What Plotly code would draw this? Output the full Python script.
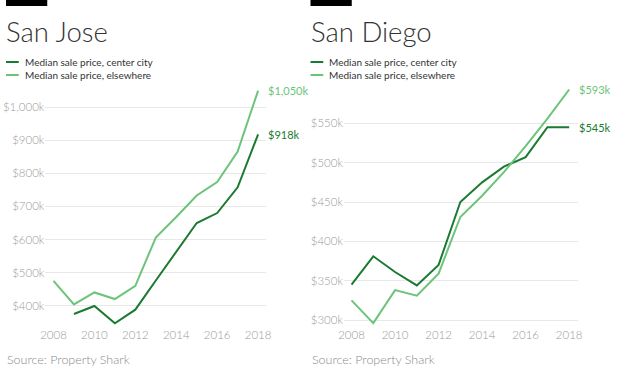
import plotly.graph_objects as go

# ---- data (values in $ thousands) ----
sj_years_center = [2009, 2010, 2011, 2012, 2013, 2014, 2015, 2016, 2017, 2018]
sj_center = [375, 399, 347, 388, 476, 565, 650, 680, 758, 918]
sj_years_else = [2008, 2009, 2010, 2011, 2012, 2013, 2014, 2015, 2016, 2017, 2018]
sj_else = [475, 404, 440, 420, 460, 606, 668, 733, 774, 866, 1050]

sd_years = [2008, 2009, 2010, 2011, 2012, 2013, 2014, 2015, 2016, 2017, 2018]
sd_center = [345, 381, 361, 344, 370, 450, 475, 495, 507, 545, 545]
sd_else = [325, 296, 338, 331, 359, 431, 458, 488, 521, 556, 593]

titles = ["San Jose", "San Diego"]
legend_labels = ["Median sale price, center city", "Median sale price, elsewhere"]
source_text = "Source: Property Shark"
x_ticks = [2008, 2010, 2012, 2014, 2016, 2018]
sj_y_ticks = [400, 500, 600, 700, 800, 900, 1000]
sd_y_ticks = [300, 350, 400, 450, 500, 550]

DARK = "#1b7a31"
LIGHT = "#6cc47a"
FONT = "Lato"
W, H = 620, 371


def fmt(v):
    return "${:,}k".format(v)


fig = go.Figure()


def px_x(p):
    return p / W


def px_y(p):
    return 1 - p / H


def add_line(x, y, color, xa, ya):
    fig.add_trace(go.Scatter(x=x, y=y, mode="lines", xaxis=xa, yaxis=ya,
                             line=dict(color=color, width=2), hoverinfo="skip",
                             showlegend=False))


add_line(sj_years_center, sj_center, DARK, "x", "y")
add_line(sj_years_else, sj_else, LIGHT, "x", "y")
add_line(sd_years, sd_center, DARK, "x2", "y2")
add_line(sd_years, sd_else, LIGHT, "x2", "y2")

ydom = [px_y(326), px_y(88)]
axis_font = dict(family=FONT, size=11.5, color="#9a9a9a", weight=300)

fig.update_layout(
    width=W, height=H, margin=dict(l=0, r=0, t=0, b=0),
    paper_bgcolor="white", plot_bgcolor="white", showlegend=False,
    font=dict(family=FONT),
    xaxis=dict(domain=[px_x(40), px_x(265)], range=[2007.6, 2018.4],
               tickvals=x_ticks, showgrid=False, zeroline=False, showline=False,
               tickfont=axis_font, ticks=""),
    yaxis=dict(domain=ydom, range=[338.6, 1058], tickvals=sj_y_ticks,
               ticktext=[fmt(v) for v in sj_y_ticks],
               showgrid=True, gridcolor="#e8e8e8", gridwidth=1, zeroline=False,
               tickfont=axis_font, ticks="", anchor="x"),
    xaxis2=dict(domain=[px_x(344), px_x(582)], range=[2007.65, 2018.39],
                tickvals=x_ticks, showgrid=False, zeroline=False, showline=False,
                tickfont=axis_font, ticks="", anchor="y2"),
    yaxis2=dict(domain=ydom, range=[292.4, 594.9], tickvals=sd_y_ticks,
                ticktext=[fmt(v) for v in sd_y_ticks],
                showgrid=True, gridcolor="#e8e8e8", gridwidth=1, zeroline=False,
                tickfont=axis_font, ticks="", anchor="x2"),
)

shapes = []
annotations = []
for i, x0 in enumerate([0, 310]):
    # black bar at top
    shapes.append(dict(type="rect", xref="paper", yref="paper",
                       x0=px_x(x0), x1=px_x(x0 + 42), y0=px_y(6), y1=px_y(0),
                       fillcolor="black", line=dict(width=0)))
    # title
    annotations.append(dict(text=titles[i], xref="paper", yref="paper",
                            x=px_x(x0 - 2), y=px_y(31), xanchor="left", yanchor="middle",
                            showarrow=False,
                            font=dict(family=FONT, size=27.5, color="#333333", weight=300)))
    # legend
    for j, (c, lab) in enumerate(zip([DARK, LIGHT], legend_labels)):
        yy = 62 + 13 * j
        shapes.append(dict(type="line", xref="paper", yref="paper",
                           x0=px_x(x0), x1=px_x(x0 + 13), y0=px_y(yy), y1=px_y(yy),
                           line=dict(color=c, width=2)))
        annotations.append(dict(text=lab, xref="paper", yref="paper",
                                x=px_x(x0 + 17), y=px_y(yy), xanchor="left", yanchor="middle",
                                showarrow=False, font=dict(family=FONT, size=10, color="#333333")))
    # source
    annotations.append(dict(text=source_text, xref="paper", yref="paper",
                            x=px_x(x0 - 1), y=px_y(359), xanchor="left", yanchor="middle",
                            showarrow=False,
                            font=dict(family=FONT, size=12.5, color="#8a8a8a", weight=300)))

end_labels = [
    (sj_years_else[-1], sj_else[-1], LIGHT, "x", "y"),
    (sj_years_center[-1], sj_center[-1], DARK, "x", "y"),
    (sd_years[-1], sd_else[-1], LIGHT, "x2", "y2"),
    (sd_years[-1], sd_center[-1], DARK, "x2", "y2"),
]
for x, y, c, xa, ya in end_labels:
    annotations.append(dict(text=fmt(y), x=x, y=y, xref=xa, yref=ya,
                            xanchor="left", yanchor="middle", xshift=8,
                            showarrow=False, font=dict(family=FONT, size=11, color=c)))

fig.update_layout(shapes=shapes, annotations=annotations)
fig.write_html("out.html", config={"displayModeBar": False},
               post_script="document.body.style.margin='0';document.body.style.padding='0';")
